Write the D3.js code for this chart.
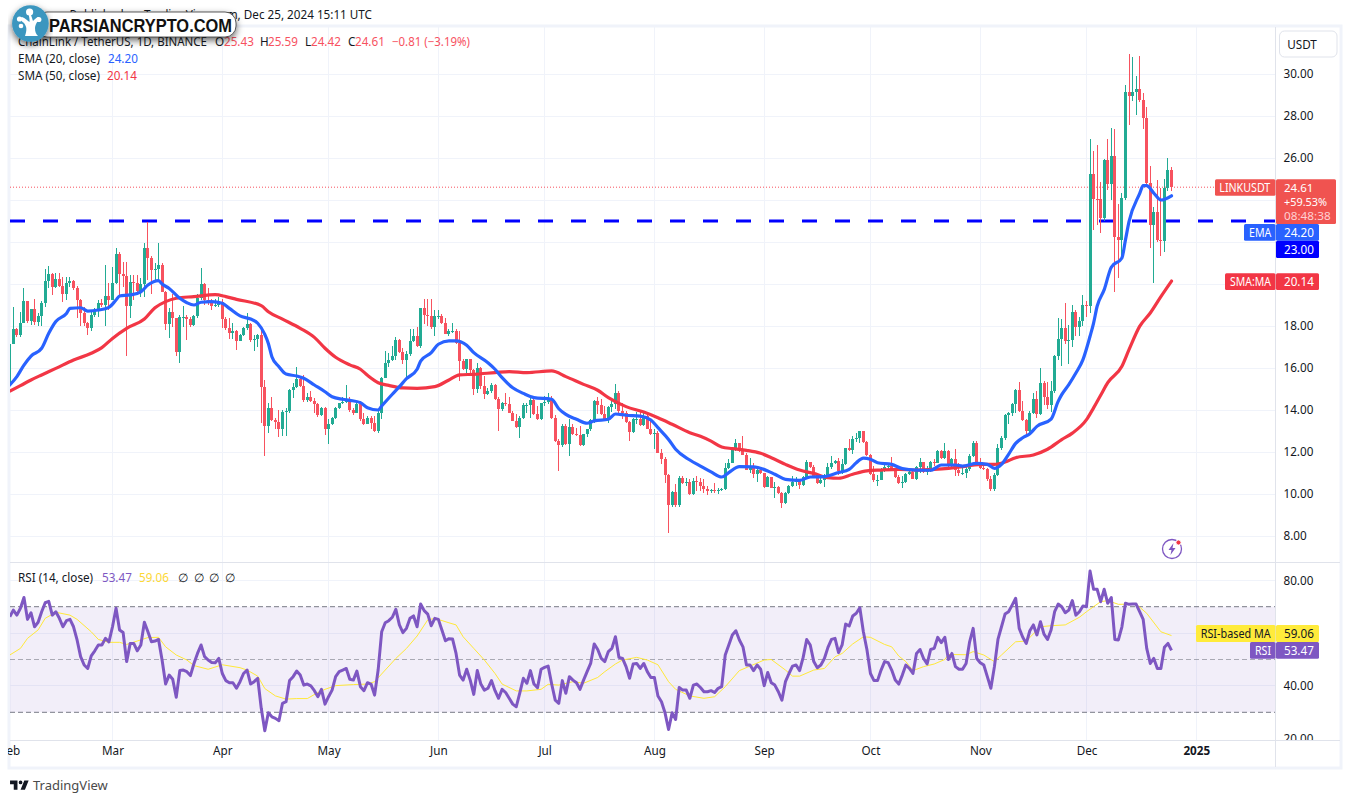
<!DOCTYPE html>
<html><head><meta charset="utf-8">
<script src="https://cdn.jsdelivr.net/npm/d3@7/dist/d3.min.js"></script>
<style>html,body{margin:0;padding:0;background:#fff}svg{display:block}text{font-family:"Noto Sans",sans-serif;font-size:11.7px;fill:#131722}</style>
</head><body><svg id="c" width="1351" height="803"></svg>
<script>
// ---------- values ----------
const firstDay = "2024-02-01";
const firstOpen = 15.3;
const closes = [17.14,17.86,17.57,18.13,19.19,18.24,18.8,18.2,18.48,19.08,
20.14,20.48,19.87,20.22,19.92,19.52,20.03,20.14,19.79,19.24,
18.6,18.13,17.89,18.52,18.73,19.08,19.0,19.43,19.24,20.03,
21.43,20.48,20.38,18.95,20.11,20.06,19.68,19.98,21.71,21.25,
20.67,20.73,20.9,19.63,18.1,18.65,18.37,16.78,18.41,18.44,
18.35,18.05,18.49,19.32,20.0,19.24,19.08,18.97,19.0,19.16,
18.35,17.92,17.68,17.78,17.3,17.57,17.92,18.1,17.33,17.4,
17.59,15.11,13.25,14.08,13.52,13.44,13.1,13.89,13.95,14.95,
15.11,15.49,15.14,14.48,14.6,14.43,14.27,13.76,14.11,13.1,
13.32,13.6,14.11,14.32,14.4,14.44,14.0,13.87,14.27,13.56,
13.32,13.6,13.37,13.0,13.87,15.54,16.25,16.37,16.57,17.32,
16.76,16.37,16.65,17.27,17.52,17.05,18.84,18.52,18.48,17.95,
18.48,18.5,18.16,17.62,17.76,17.76,17.21,16.33,15.94,16.41,
15.9,14.98,16.02,15.14,14.75,14.89,15.17,14.54,14.03,14.35,
14.27,13.87,13.46,13.19,13.63,14.22,14.25,14.46,13.79,13.56,
14.32,14.38,14.46,13.6,12.51,12.32,13.24,12.37,13.19,12.84,
12.81,12.32,12.84,13.08,13.51,14.43,14.24,13.79,13.56,14.14,
14.27,14.83,13.95,13.84,13.43,12.95,13.56,13.59,13.27,13.71,
13.11,12.84,12.92,11.97,11.65,10.9,9.46,10.11,9.46,10.78,
10.51,10.59,9.98,10.6,10.59,10.38,10.22,10.16,10.17,10.16,
10.19,10.25,11.25,11.49,12.08,12.41,12.05,11.86,11.14,11.3,
10.94,11.14,11.02,10.35,10.81,10.3,10.35,10.03,9.56,10.06,
10.38,10.57,10.62,10.41,10.83,11.52,11.3,10.83,10.51,10.67,
10.89,11.27,11.46,11.56,11.1,11.41,12.17,12.11,12.6,12.68,
12.98,12.48,11.84,10.97,10.67,10.68,11.1,11.29,11.33,11.17,
10.81,10.51,10.59,10.94,11.05,10.73,11.3,11.52,11.05,11.2,
11.52,11.46,12.05,11.73,12.05,11.33,11.65,11.14,10.98,11.02,
11.17,11.81,12.41,11.41,11.24,11.17,10.73,10.25,10.89,12.21,
12.65,13.75,13.84,14.27,14.94,13.95,13.51,13.0,13.87,14.54,
13.79,15.29,14.62,14.22,14.89,16.59,17.4,17.9,17.3,17.35,
18.67,17.94,18.25,19.02,18.94,25.24,24.05,24.03,23.13,25.9,
24.76,26.1,22.25,22.1,24.08,29.16,28.97,29.16,29.29,28.76,
27.89,24.79,22.8,23.43,22.1,22.05,24.57,25.43,24.61];
const highs = [17.17,18.89,17.9,18.68,19.8,19.19,18.81,19.27,18.6,19.19,
20.7,20.86,20.51,20.51,20.51,20.35,20.35,20.35,20.19,19.91,
19.27,18.92,18.21,18.76,18.84,19.24,19.27,20.91,20.03,20.83,
21.72,21.54,21.07,21.07,20.43,20.43,20.43,20.27,21.97,22.95,
21.34,20.99,21.97,21.02,19.67,18.84,19.53,18.37,18.53,18.95,
18.53,18.41,18.53,19.53,20.75,20.03,19.8,19.27,19.27,19.37,
19.27,18.45,18.37,18.13,17.81,17.62,17.97,18.64,18.16,17.57,
17.62,17.89,15.43,14.32,14.64,13.6,14.0,14.0,14.08,15.0,
15.27,16.07,15.59,15.67,14.8,14.92,14.56,14.32,14.16,14.13,
13.57,13.65,14.16,14.35,14.64,15.19,14.6,14.11,14.43,14.43,
13.84,13.72,13.72,13.72,13.96,15.59,16.81,16.73,17.05,17.5,
17.4,16.97,16.81,17.85,17.85,17.96,18.88,19.27,19.27,19.27,
18.77,18.77,18.56,18.4,17.88,18.13,17.85,17.77,16.42,16.45,
16.45,15.97,16.26,16.07,15.62,15.07,15.27,15.23,14.64,14.38,
14.83,14.64,13.94,13.8,13.72,14.32,14.35,14.7,14.67,14.19,
14.35,14.67,14.8,14.67,13.75,12.61,13.32,13.32,13.56,13.32,
13.16,13.24,12.85,13.11,13.56,14.48,14.64,14.51,14.19,14.19,
14.43,15.23,14.91,14.35,13.96,13.48,13.64,13.91,13.91,13.88,
13.8,13.53,13.08,13.0,12.13,11.77,10.97,10.15,10.46,10.86,
10.86,10.78,10.7,10.78,10.86,10.78,10.73,10.38,10.23,10.51,
10.27,10.3,11.46,11.65,12.26,12.61,12.42,12.77,11.94,11.73,
11.5,11.26,11.29,11.02,10.85,10.81,10.57,10.38,10.1,10.1,
10.42,10.86,10.81,10.7,10.86,11.62,11.53,11.37,10.89,10.89,
10.94,11.46,11.81,11.62,11.73,11.65,12.21,12.64,12.77,12.92,
13.02,13.02,12.53,11.92,11.34,10.89,11.26,11.42,11.5,11.78,
11.26,10.89,10.86,10.99,11.18,11.13,11.34,11.73,11.53,11.34,
11.57,11.69,12.08,12.08,12.42,12.08,11.73,12.13,11.5,11.26,
11.34,11.89,12.53,12.53,11.73,11.5,11.26,10.86,10.99,12.37,
12.77,13.8,13.91,14.31,15.02,15.35,14.43,13.56,13.96,14.83,
14.89,16.0,15.37,15.32,15.4,16.64,18.38,18.34,19.1,18.07,
19.02,18.75,18.43,19.5,19.18,26.9,26.33,26.6,24.85,25.97,
26.9,27.43,27.38,23.8,24.33,29.48,30.95,30.8,29.9,30.86,
29.1,28.43,25.6,23.67,24.95,24.57,25.0,26.0,25.59];
const lows = [15.27,17.14,17.5,17.49,18.13,18.13,18.05,18.05,18.0,18.0,
18.89,19.8,19.48,19.8,19.88,19.16,19.24,19.88,19.72,18.37,
18.0,18.0,17.57,17.78,18.45,18.45,18.89,18.0,18.76,19.24,
20.0,19.48,19.88,16.57,18.37,19.24,19.52,19.4,19.4,20.19,
19.52,20.19,20.11,19.63,17.81,17.41,17.94,16.57,16.26,17.94,
17.33,17.94,18.0,18.37,19.24,19.0,19.0,18.76,18.89,18.89,
17.89,17.81,17.37,17.37,16.86,17.3,17.54,17.81,17.26,16.83,
17.02,13.4,11.81,12.89,13.5,13.08,12.73,12.76,12.76,13.88,
14.56,15.03,15.11,14.4,14.4,14.4,13.84,13.68,13.73,12.81,
12.38,13.29,13.56,14.03,14.29,14.32,13.9,13.75,13.88,13.5,
13.3,13.32,13.11,12.96,12.89,13.56,15.51,16.07,16.34,16.38,
16.73,16.18,15.46,16.58,17.24,17.02,16.97,18.08,18.0,17.88,
17.53,18.32,18.11,17.61,17.53,17.69,17.13,15.38,15.9,15.75,
15.78,14.7,14.83,14.99,14.51,14.7,14.8,14.48,13.0,13.96,
14.2,13.85,13.46,13.16,12.69,13.59,13.84,13.64,13.75,13.53,
13.53,14.19,14.27,13.56,12.5,11.1,12.26,12.32,11.81,12.8,
12.77,12.29,12.29,12.73,13.0,13.4,13.8,13.75,13.53,13.4,
13.91,14.04,13.85,13.56,13.4,12.53,12.92,13.32,13.24,13.24,
13.08,12.81,12.16,11.94,11.42,10.51,8.13,9.4,9.4,9.38,
10.46,10.38,9.95,9.96,10.15,10.15,10.04,9.96,10.07,10.07,
10.0,10.16,10.19,11.18,11.46,12.05,12.0,11.85,11.13,10.99,
10.78,10.58,10.94,10.27,10.35,10.27,9.83,10.02,9.32,9.54,
10.02,10.31,10.38,10.23,10.38,10.78,11.26,10.78,10.46,10.46,
10.31,10.86,11.18,11.42,10.89,10.94,11.37,12.07,11.89,12.48,
12.45,12.45,11.81,10.89,10.58,10.38,10.65,11.07,11.18,11.15,
10.78,10.46,10.27,10.54,10.89,10.7,10.67,11.02,10.99,10.89,
11.05,11.34,11.46,11.69,11.65,11.26,11.18,10.86,10.86,10.89,
10.75,11.1,11.75,11.37,11.18,11.15,10.62,10.15,10.16,10.86,
12.1,12.57,13.32,13.72,13.88,13.92,13.48,12.85,12.92,13.8,
13.62,13.78,14.26,14.07,13.89,14.81,16.37,16.11,17.16,16.21,
17.0,17.51,17.54,18.02,18.43,18.62,22.57,22.81,22.43,23.0,
24.48,24.0,19.6,20.29,21.24,24.0,27.57,28.71,28.05,28.68,
27.37,24.7,21.7,20.05,22.0,21.33,21.52,24.45,24.42];
const rsiValues = [66.2,68.7,66.8,69.4,73.5,65.2,67.7,62.4,64.1,68.1,
71.5,72,66.8,68.1,65.6,62.4,64.7,65.2,62.4,57.4,
51.1,47.9,46.6,51.4,53.3,55.5,55.5,58,56.7,62.4,
69.4,61.2,60.2,49.2,56.1,56.1,53.3,55.5,64.1,60.5,
56.7,57,57.6,49.8,40.7,44.1,42.5,35.7,45.8,46,
45.4,43.9,48.5,52.3,55.5,51.1,49.8,48.9,48.8,50.4,
44.7,42,41.2,41.2,39.1,41.6,44.7,46,40.7,41.6,
42.9,31.5,23,29.8,28.3,27.7,26.8,33.4,34,42,
43.5,45.6,44.1,40.3,40.7,40,38.2,35.9,38.7,33.1,
35.9,38.4,43.5,45.4,46,46.6,42.5,42.2,45.6,39.7,
38.2,41.2,40.7,36.5,46,60.5,63.9,64.7,66,69,
63.1,60.2,61.8,65.6,66.5,62.4,71,68.5,67.2,62.8,
65.6,65.2,61.2,57.1,57.9,57.8,52.3,44.1,42.2,46.3,
42.2,36.8,45.8,40.7,38.4,39.1,42,38.2,35.3,38.7,
37.5,35.3,33.1,32.1,37.4,42.9,41,45.8,40.7,39.3,
46.3,47,47.5,40.7,34.6,33.4,42,37.2,43.5,42.2,
41.2,38.7,42.2,45.4,48.5,55.9,53.8,50.4,49.2,53,
54.2,58.6,50.8,50.4,47.3,42.9,48.3,48.5,46.6,48.5,
45.4,43.2,43.2,36.2,34,29.8,23.5,29.8,27.3,39.4,
38.4,38.4,35.3,40.3,40.7,39.4,37.8,37.8,38.2,37.5,
39.1,39.7,51.7,55.5,59.3,60.9,57.4,54.8,47.9,47.9,
45.8,47.9,46.3,40.1,45.1,41.2,40.3,37.8,34.6,41.6,
44.7,47.5,47.9,45.8,50.8,57.6,55.5,49.2,46.9,47.9,
50.4,54.6,57.6,58,52.6,55.5,63.4,62.7,66.5,67.5,
69.6,60.5,53.8,44.7,42,42,46,49.2,48.8,46,
42.2,40.7,44.1,47.9,46.6,44.7,52.3,53.8,50.4,48.3,
53.8,54.2,58.4,56.4,58.4,50,52.3,47.3,46.3,46.3,
48.5,56.7,61.8,50.4,48.8,47.9,43.5,39.1,47.3,57.6,
62.4,67.2,68.1,70.6,73.2,61.8,58.4,56.1,60.9,63.1,
59.3,64.3,59.6,57.6,61.2,68.1,71,70,67.7,68.7,
72.3,66.8,68.1,70.3,70,83.5,76.6,76.6,71.9,76.6,
71.3,73.5,57.6,57.4,62.4,71.3,70.9,71,71,68.1,
65.2,54.2,48.5,50.4,46.6,46.6,54.6,56.1,53.47];
const rsiMaDays = [0,3,5,8,10,13,17,19,23,25,28,31,33,36,39,42,44,47,50,52,56,60,65,67,70,72,75,78,81,84,87,89,92,97,101,103,106,109,112,115,118,120,124,126,128,131,134,137,139,143,146,150,152,155,159,162,166,168,171,173,177,180,183,186,188,192,196,199,202,206,209,213,215,219,221,223,227,230,233,235,238,241,243,247,249,251,253,255,258,261,264,265,270,272,275,278,280,284,287,291,294,298,302,304,308,310,313,318,321,325,328];
const rsiMaValues = [51.7,54.2,58,61.2,65.6,67.9,66.8,65.2,60.5,57.6,56.5,56.5,55.7,57,58.3,58.4,54.8,51.7,49.8,47.7,46.3,48,46.9,46,43.7,39,36.2,35,35.2,35.2,37.5,38.7,40.1,40.5,40.7,41.6,46,50.4,54.2,58.9,65,65.6,63.9,63.1,58.6,54.2,49.8,44.7,40.7,38.1,38.1,38.7,40.6,40.3,41.6,41,43.2,45.4,48.3,49.8,50.8,49.8,48,41.6,38.7,36.2,35.3,35.9,39.7,45.8,47.5,49.8,50,46,43.7,43.7,46,46.6,51,52.3,55.9,58.6,58.4,55.7,54.8,51.3,49.2,45.8,47.3,48.3,50,51.9,51.8,53,51.7,49.2,51.7,56.7,57,62.4,62.8,63.1,66,68.1,71.9,72.3,70.9,71,67.5,60.5,59.06];
const emaDays = [0,2,4,6,9,11,13,16,17,20,22,25,28,30,31,34,37,39,42,43,45,48,50,52,54,57,60,62,65,68,70,72,73,74,76,78,81,83,86,89,91,94,96,99,101,104,105,108,110,112,115,116,119,121,124,126,129,131,135,137,139,142,145,148,153,155,157,160,163,165,169,171,174,178,181,183,186,188,192,195,198,201,203,206,210,214,216,219,223,226,230,234,237,239,241,243,245,249,252,256,260,263,267,269,273,276,278,280,282,284,286,288,290,294,296,297,299,301,303,305,306,307,309,311,314,315,316,319,320,321,323,325,328];
const emaValues = [15.19,15.59,16.14,16.57,16.94,17.65,18.21,18.6,18.84,18.87,18.71,18.76,18.89,19.24,19.43,19.48,19.63,19.95,20.16,20,19.79,19.32,19.11,19,19.13,19.16,19.08,18.84,18.48,18.33,18.13,17.6,17.17,16.54,16.06,15.71,15.62,15.51,15.19,14.87,14.63,14.51,14.46,14.35,14.11,14,14.19,14.75,15.11,15.49,15.94,16.33,16.73,17.13,17.29,17.29,17.08,16.73,16.25,15.94,15.54,15.06,14.79,14.59,14.51,14.06,13.79,13.56,13.37,13.48,13.56,13.81,13.75,13.71,13.52,13.16,12.6,12.13,11.62,11.33,11.05,10.81,11.02,11.3,11.29,11.1,10.94,10.7,10.65,10.81,10.83,11.02,11.17,11.49,11.71,11.65,11.49,11.41,11.21,11.14,11.13,11.38,11.38,11.33,11.46,11.41,11.22,11.41,11.89,12.41,12.68,12.87,13.22,13.57,14.41,14.73,15.21,15.76,16.4,17.51,18.14,18.94,19.73,20.8,21.24,22.1,22.97,24.3,24.68,24.68,24.33,24,24.2];
const smaDays = [0,3,6,9,13,18,23,26,29,33,38,41,44,47,52,58,61,64,71,73,77,82,86,89,92,96,99,101,104,107,111,115,120,124,127,131,137,141,146,153,157,162,166,169,174,179,183,187,192,195,198,201,204,208,212,215,219,223,227,231,234,238,242,246,251,256,261,265,270,275,278,281,284,289,293,297,300,304,306,308,310,314,316,319,322,325,328];
const smaValues = [14.9,15.16,15.43,15.67,15.98,16.38,16.7,16.97,17.41,17.89,18.33,18.87,19.16,19.32,19.4,19.49,19.4,19.27,18.97,18.68,18.33,17.89,17.46,16.94,16.51,16.15,15.94,15.65,15.3,15.17,15.05,15.03,15.11,15.43,15.67,15.7,15.78,15.83,15.78,15.86,15.59,15.22,14.94,14.59,14.16,13.9,13.63,13.32,12.92,12.75,12.52,12.24,12.16,12.08,11.94,11.73,11.41,11.14,10.98,10.78,10.75,10.94,11.1,11.14,11.17,11.14,11.17,11.22,11.33,11.41,11.41,11.52,11.73,11.86,12.13,12.59,12.9,13.54,14.1,14.7,15.3,16.08,16.87,17.98,18.62,19.4,20.14];
const priceTicks = [30,28,26,24,22,20,18,16,14,12,10,8];
const priceAxisLabels = [30,28,26,18,16,14,12,10,8];
const rsiTicks = [80,60,40];
const rsiAxisLabels = [80,40,20];
const rsiBands = [70,50,30];
const monthDays = ["2024-02-01","2024-03-01","2024-04-01","2024-05-01","2024-06-01","2024-07-01","2024-08-01","2024-09-01","2024-10-01","2024-11-01","2024-12-01","2025-01-01"];
const monthLabels = ["Feb","Mar","Apr","May","Jun","Jul","Aug","Sep","Oct","Nov","Dec","2025"];
const supportLevel = 23;
const lastClose = 24.61, emaLast = 24.20, smaLast = 20.14, rsiLast = 53.47, rsiMaLast = 59.06;

// ---------- palette ----------
const UP="#22ab94", DOWN="#f7525f", GRID="#f0f3fa", BORDER="#e0e3eb";
const EMA="#2962ff", SMA="#f23645", RSI="#7e57c2", RSIMA="#ffeb3b", BLUE="#0000ff";

// ---------- scales ----------
const parse=d3.utcParse("%Y-%m-%d");
const start=parse(firstDay);
const dayDate=i=>d3.utcDay.offset(start,i);
const x=d3.scaleUtc().domain([parse("2024-03-01"),parse("2025-01-01")]).range([112.5,1196.3]);
const y=d3.scaleLinear().domain([8,30]).range([536,74]);
const r=d3.scaleLinear().domain([30,70]).range([712.3,606.7]);
const L=10,R=1275.5,T=27,PB=562,RB=740,B=767;

const svg=d3.select("#c");
const defs=svg.append("defs");
defs.append("clipPath").attr("id","cp").append("rect").attr("x",L).attr("y",T).attr("width",R-L).attr("height",PB-T);
defs.append("clipPath").attr("id","cr").append("rect").attr("x",L).attr("y",PB+1).attr("width",R-L).attr("height",RB-PB-1);
defs.append("clipPath").attr("id","cAxisR").append("rect").attr("x",R).attr("y",PB+1).attr("width",60).attr("height",RB-PB-1);
defs.append("clipPath").attr("id","cTime").append("rect").attr("x",8).attr("y",RB).attr("width",R-8).attr("height",B-RB);
const sh=defs.append("filter").attr("id","sh").attr("x","-10%").attr("y","-40%").attr("width","120%").attr("height","220%");
sh.append("feDropShadow").attr("dx",0).attr("dy",3).attr("stdDeviation",3.5).attr("flood-color","#000").attr("flood-opacity",.6);

// ---------- header ----------
svg.append("text").attr("x",372).attr("y",19).attr("text-anchor","end").text("Published on TradingView.com, Dec 25, 2024 15:11 UTC");

// frame
svg.append("rect").attr("x",9).attr("y",26).attr("width",1332).attr("height",742).attr("fill","#fff").attr("stroke",GRID).attr("stroke-width",3);

// grid
const grid=svg.append("g").attr("stroke",GRID).attr("stroke-width",1).attr("shape-rendering","crispEdges");
monthDays.slice(1).forEach(d=>{const p=x(parse(d));
  grid.append("line").attr("x1",p).attr("x2",p).attr("y1",T).attr("y2",RB);});
priceTicks.forEach(v=>grid.append("line").attr("x1",L).attr("x2",R).attr("y1",y(v)).attr("y2",y(v)));
rsiTicks.forEach(v=>grid.append("line").attr("x1",L).attr("x2",R).attr("y1",r(v)).attr("y2",r(v)));

// ---------- price pane ----------
const pane=svg.append("g").attr("clip-path","url(#cp)");
pane.append("line").attr("x1",L).attr("x2",R).attr("y1",y(lastClose)).attr("y2",y(lastClose))
  .attr("stroke",DOWN).attr("stroke-dasharray","1 2").attr("stroke-width",1);
pane.append("line").attr("x1",L).attr("x2",R).attr("y1",y(supportLevel)).attr("y2",y(supportLevel))
  .attr("stroke",BLUE).attr("stroke-width",3).attr("stroke-dasharray","15 18");

const candles=closes.map((c,i)=>({i,open:i?closes[i-1]:firstOpen,close:c,high:highs[i],low:lows[i]}));
const g=pane.append("g").attr("shape-rendering","crispEdges");
const cx=d=>Math.round(x(dayDate(d.i))-1.5);
g.selectAll(".w").data(candles).join("rect").attr("class","w")
  .attr("x",d=>cx(d)+1).attr("width",1)
  .attr("y",d=>y(d.high)).attr("height",d=>y(d.low)-y(d.high))
  .attr("fill",d=>d.close>=d.open?UP:DOWN);
g.selectAll(".b").data(candles).join("rect").attr("class","b")
  .attr("x",cx).attr("width",3)
  .attr("y",d=>y(Math.max(d.open,d.close)))
  .attr("height",d=>Math.max(1,Math.abs(y(d.open)-y(d.close))))
  .attr("fill",d=>d.close>=d.open?UP:DOWN);

const lineP=(days,vals,yy,curve)=>d3.line().x(i=>x(dayDate(days[i]))).y(i=>yy(vals[i])).curve(curve||d3.curveLinear)(d3.range(days.length));
pane.append("path").attr("d",lineP(smaDays,smaValues,y,d3.curveMonotoneX)).attr("fill","none").attr("stroke",SMA).attr("stroke-width",3.2).attr("stroke-linejoin","round").attr("stroke-linecap","round");
pane.append("path").attr("d",lineP(emaDays,emaValues,y,d3.curveMonotoneX)).attr("fill","none").attr("stroke",EMA).attr("stroke-width",3.2).attr("stroke-linejoin","round").attr("stroke-linecap","round");

// ---------- RSI pane ----------
const rp=svg.append("g").attr("clip-path","url(#cr)");
rp.append("rect").attr("x",L).attr("width",R-L).attr("y",r(70)).attr("height",r(30)-r(70)).attr("fill",RSI).attr("fill-opacity",.1);
rsiBands.forEach(v=>rp.append("line").attr("x1",L).attr("x2",R).attr("y1",r(v)).attr("y2",r(v))
  .attr("stroke","#787b86").attr("stroke-opacity",v===50?.6:1).attr("stroke-dasharray","5 3").attr("stroke-width",1));
rp.append("path").attr("d",lineP(rsiMaDays,rsiMaValues,r)).attr("fill","none").attr("stroke","#ffe838").attr("stroke-width",1);
const rsiDays=rsiValues.map((_,i)=>i);
rp.append("path").attr("d",lineP(rsiDays,rsiValues,r)).attr("fill","none").attr("stroke",RSI).attr("stroke-width",3).attr("stroke-linejoin","round");

// ---------- separators ----------
const sep=svg.append("g").attr("stroke",BORDER).attr("stroke-width",1).attr("shape-rendering","crispEdges");
sep.append("line").attr("x1",L).attr("x2",1340).attr("y1",PB).attr("y2",PB);
sep.append("line").attr("x1",L).attr("x2",1340).attr("y1",RB).attr("y2",RB);
sep.append("line").attr("x1",R).attr("x2",R).attr("y1",T).attr("y2",B);

// ---------- axes ----------
const clean=s=>{s.select(".domain").remove();s.selectAll(".tick line").remove();s.selectAll("text").attr("fill","#131722");s.attr("font-family",null).attr("font-size",null);};
svg.append("g").attr("transform",`translate(${R},0)`)
  .call(d3.axisRight(y).tickValues(priceAxisLabels).tickFormat(d3.format(".2f")).tickSize(0).tickPadding(8)).call(clean);
svg.append("g").attr("clip-path","url(#cAxisR)").append("g").attr("transform",`translate(${R},0)`)
  .call(d3.axisRight(r).tickValues(rsiAxisLabels).tickFormat(d3.format(".2f")).tickSize(0).tickPadding(8)).call(clean);
const tm=svg.append("g").attr("clip-path","url(#cTime)").append("g").attr("transform",`translate(0,${RB})`)
  .call(d3.axisBottom(x).tickValues(monthDays.map(parse)).tickFormat((d,i)=>monthLabels[i]).tickSize(0).tickPadding(7)).call(clean);
tm.selectAll("text").filter((d,i)=>monthLabels[i]==="2025").style("font-weight",700);

// USDT button
svg.append("rect").attr("x",1279.5).attr("y",31).attr("width",57.5).attr("height",26).attr("rx",5).attr("fill","#fff").attr("stroke",BORDER);
svg.append("text").attr("x",1302).attr("y",48.5).attr("text-anchor","middle").text("USDT");

// ---------- right-hand labels ----------
function tag(text,x0,x1,y0,y1,bg,fg,anchorX,len){
  svg.append("rect").attr("x",x0).attr("y",y0).attr("width",x1-x0).attr("height",y1-y0).attr("fill",bg).attr("rx",1.5);
  if(text){const t=svg.append("text").attr("x",anchorX).attr("y",(y0+y1)/2+4.2).style("fill",fg).text(text);
    if(len) t.attr("textLength",len).attr("lengthAdjust","spacingAndGlyphs");}
}
tag("LINKUSDT",1215,R,179.3,195.7,"#f05350","#fff",1219.3,51);
tag("",R+.5,1336,179.3,224,"#f05350","#fff",0);
svg.append("text").attr("x",1284).attr("y",191.8).style("fill","#fff").style("font-size","11.5px").text(lastClose.toFixed(2));
svg.append("text").attr("x",1284).attr("y",206).style("fill","#fff").style("font-size","11.5px").attr("textLength",43).attr("lengthAdjust","spacingAndGlyphs").text("+59.53%");
svg.append("text").attr("x",1284).attr("y",220).style("fill","#ffd0d3").style("font-size","11.5px").attr("textLength",46.7).attr("lengthAdjust","spacingAndGlyphs").text("08:48:38");
tag("EMA",1244,R,224,240.7,EMA,"#fff",1249,22.3);
tag(emaLast.toFixed(2),R+.5,1319,224,240.7,EMA,"#fff",1284);
tag(supportLevel.toFixed(2),R+.5,1319,240.7,258,BLUE,"#fff",1284);
tag("SMA:MA",1225,R,273.3,290,SMA,"#fff",1230,41);
tag(smaLast.toFixed(2),R+.5,1319,273.3,290,SMA,"#fff",1284);
tag("RSI-based MA",1196,R,625,642,RSIMA,"#131722",1200.7,70);
tag(rsiMaLast.toFixed(2),R+.5,1319,625,642,RSIMA,"#131722",1284);
tag("RSI",1250,R,642,658.7,RSI,"#fff",1255,16);
tag(rsiLast.toFixed(2),R+.5,1319,642,658.7,RSI,"#fff",1284);

// ---------- legends ----------
const lg=(t,xx,yy,c)=>svg.append("text").attr("x",xx).attr("y",yy).style("fill",c||"#131722").text(t);
lg("ChainLink / TetherUS, 1D, BINANCE",18,46).attr("textLength",189).attr("lengthAdjust","spacingAndGlyphs");
lg("O",215,46);lg("25.43",224,46,DOWN);lg("H",260,46);lg("25.59",268,46,DOWN);
lg("L",305,46);lg("24.42",311,46,DOWN);lg("C",348,46);lg("24.61",355,46,DOWN);lg("−0.81 (−3.19%)",392,46,DOWN).attr("textLength",78).attr("lengthAdjust","spacingAndGlyphs");
lg("EMA (20, close)",18,63);lg("24.20",108,63,EMA);
lg("SMA (50, close)",18,80);lg("20.14",107,80,SMA);
lg("RSI (14, close)",18,582);lg("53.47",102,582,RSI);lg("59.06",139,582,"#fdd835");
[178,194,209,225].forEach(p=>lg("∅",p,582));

// lightning badge
const badge=svg.append("g").attr("transform","translate(1172,549)");
badge.append("circle").attr("r",9.5).attr("fill","#fff").attr("stroke",RSI).attr("stroke-width",1.3);
badge.append("path").attr("d","M1.5,-6 L-3.5,1 L-0.5,1 L-1.5,6 L3.5,-1 L0.5,-1 Z").attr("fill",RSI);
badge.append("circle").attr("cx",6.5).attr("cy",-6.5).attr("r",2.6).attr("fill","#f23645").attr("stroke","#fff");

// TradingView footer
svg.append("path").attr("transform","translate(8.8,776.8) scale(.62)")
  .attr("d","M14 6H2v6h6v9h6V6zm12 15h-7l6-15h7l-6 15zm-7-9a3 3 0 1 0 0-6 3 3 0 0 0 0 6z").attr("fill","#131722");
svg.append("text").attr("x",33).attr("y",790).style("font-size","13px").style("fill","#4a4a4a").text("TradingView");

// ---------- watermark ----------
const wm=svg.append("g");
wm.append("rect").attr("x",36).attr("y",12).attr("width",200).attr("height",25).attr("rx",11).attr("fill","#fff").attr("stroke","#333").attr("stroke-width",.8).attr("filter","url(#sh)");
wm.append("text").attr("x",49).attr("y",31.5).style("font-family","'Liberation Sans',Arial,sans-serif").style("font-weight",700).style("font-size","18px").style("fill","#111").attr("textLength",183).attr("lengthAdjust","spacingAndGlyphs").text("PARSIANCRYPTO.COM");
wm.append("circle").attr("cx",30.4).attr("cy",23.5).attr("r",18.3).attr("fill","#3a96bf").attr("filter","url(#sh)");
const tree=wm.append("g").attr("fill","#fff");
tree.append("path").attr("d","M25,36 C27,30 27,27 24,23 C20,20 20,18 22,17 C25,18 28,21 29.5,22 C30,18 28,14 29,13 C31,13 32,18 33,21 C35,19 37,17 39,17 C39,20 35,24 35,28 C35,32 36,34 38,36 Z");
[[29.6,12,3.6],[19.5,19,2.6],[38.8,19.5,2.6],[21,26,2.3]].forEach(c=>tree.append("circle").attr("cx",c[0]).attr("cy",c[1]).attr("r",c[2]));
</script></body></html>
